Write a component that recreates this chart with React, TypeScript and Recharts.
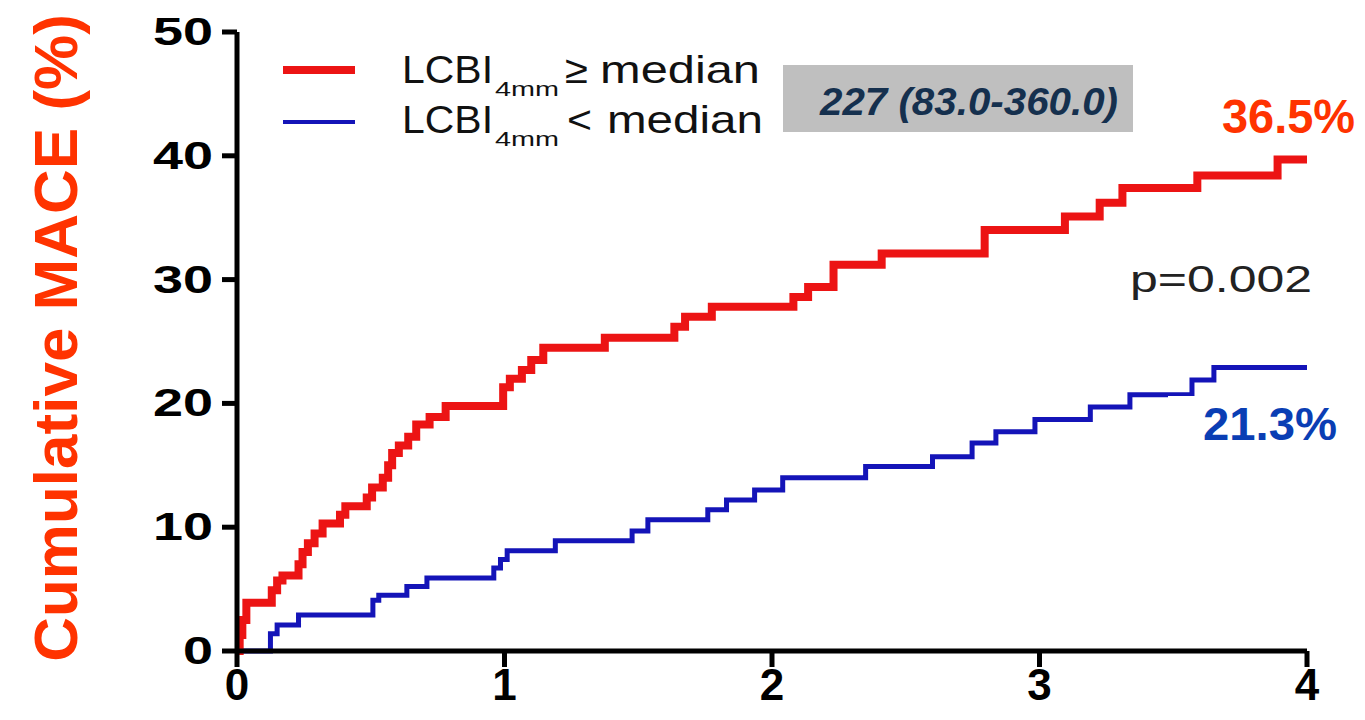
import React from "react";
import { LineChart, Line, XAxis, YAxis } from "recharts";

// Red: LCBI4mm >= median
const redTimes = [0, 0.01, 0.02, 0.035, 0.13, 0.15, 0.17, 0.23, 0.245, 0.265, 0.29, 0.32, 0.385, 0.405, 0.485, 0.505, 0.545, 0.565, 0.58, 0.605, 0.64, 0.67, 0.72, 0.78, 0.995, 1.02, 1.065, 1.1, 1.145, 1.375, 1.635, 1.675, 1.775, 2.08, 2.135, 2.23, 2.41, 2.795, 3.095, 3.225, 3.31, 3.59, 3.89, 4.0];
const redValues = [0, 1.3, 2.5, 3.9, 4.9, 5.7, 6.1, 7.0, 8.0, 8.7, 9.5, 10.3, 11.0, 11.7, 12.4, 13.2, 14.0, 15.0, 16.0, 16.6, 17.3, 18.3, 18.9, 19.8, 21.3, 22.0, 22.7, 23.5, 24.5, 25.3, 26.2, 27.0, 27.8, 28.6, 29.4, 31.2, 32.1, 34.0, 35.1, 36.2, 37.4, 38.4, 39.7, 39.7];

// Blue: LCBI4mm < median
const blueTimes = [0, 0.125, 0.15, 0.23, 0.508, 0.53, 0.635, 0.71, 0.96, 0.985, 1.01, 1.19, 1.477, 1.536, 1.76, 1.83, 1.935, 2.04, 2.35, 2.6, 2.748, 2.837, 2.983, 3.19, 3.338, 3.57, 3.652, 4.0];
const blueValues = [0, 1.4, 2.1, 2.9, 4.1, 4.5, 5.2, 5.9, 6.7, 7.4, 8.1, 8.9, 9.7, 10.6, 11.4, 12.2, 13.0, 14.0, 14.9, 15.7, 16.8, 17.7, 18.7, 19.7, 20.7, 21.9, 22.9, 22.9];

const xTicks = [0, 1, 2, 3, 4];
const yTicks = [0, 10, 20, 30, 40, 50];

const redData = redTimes.map((t, i) => ({ t, y: redValues[i] }));
const blueData = blueTimes.map((t, i) => ({ t, y: blueValues[i] }));

const FONT = "'Liberation Sans', Arial, sans-serif";

const YTick = (props: any) => {
  const { x, y, payload } = props;
  const s = String(payload.value);
  return (
    <text x={x} y={y} dy={13} textAnchor="end" fontFamily={FONT} fontWeight="bold" fontSize={38} fill="#000"
      textLength={s.length * 30} lengthAdjust="spacingAndGlyphs">
      {s}
    </text>
  );
};

const XTick = (props: any) => {
  const { x, y, payload } = props;
  return (
    <text x={x} y={y} dy={33} textAnchor="middle" fontFamily={FONT} fontWeight="bold" fontSize={44} fill="#000">
      {String(payload.value)}
    </text>
  );
};

const LegendRow = ({ y, sym, symX, symLen, medX, medLen }: any) => (
  <g fontFamily={FONT} fill="#111">
    <text x={402} y={y} fontSize={39} textLength={91} lengthAdjust="spacingAndGlyphs">LCBI</text>
    <text x={495} y={y + 13} fontSize={21} textLength={64} lengthAdjust="spacingAndGlyphs">4mm</text>
    <text x={symX} y={y} fontSize={39} textLength={symLen} lengthAdjust="spacingAndGlyphs">{sym}</text>
    <text x={medX} y={y} fontSize={39} textLength={medLen} lengthAdjust="spacingAndGlyphs">median</text>
  </g>
);

export default function App() {
  return (
    <div style={{ position: "absolute", left: 0, top: 0, width: 1365, height: 720, background: "#fff" }}>
      <LineChart width={1365} height={720} margin={{ top: 32, right: 58, left: 0, bottom: 0 }}>
        <XAxis
          type="number"
          dataKey="t"
          domain={[0, 4]}
          ticks={xTicks}
          allowDataOverflow
          height={69}
          axisLine={{ stroke: "#000", strokeWidth: 5 }}
          tickLine={{ stroke: "#000", strokeWidth: 5 }}
          tickSize={16}
          tickMargin={0}
          tick={<XTick />}
        />
        <YAxis
          type="number"
          domain={[0, 50]}
          ticks={yTicks}
          width={237}
          axisLine={{ stroke: "#000", strokeWidth: 5 }}
          tickLine={{ stroke: "#000", strokeWidth: 5 }}
          tickSize={15}
          tickMargin={9}
          tick={<YTick />}
        />
        <Line data={blueData} dataKey="y" type="stepAfter" stroke="#1414B8" strokeWidth={5} dot={false} isAnimationActive={false} />
        <Line data={redData} dataKey="y" type="stepAfter" stroke="#EC1414" strokeWidth={8} dot={false} isAnimationActive={false} />
      </LineChart>
      <svg width={1365} height={720} style={{ position: "absolute", left: 0, top: 0, pointerEvents: "none" }}>
        <text transform="translate(77,338) rotate(-90)" textAnchor="middle" fontFamily={FONT} fontWeight="bold" fontSize={62} fill="#FF3300">
          Cumulative MACE (%)
        </text>
        {/* legend */}
        <line x1={283} y1={70} x2={355} y2={70} stroke="#EC1414" strokeWidth={8} />
        <line x1={283} y1={122} x2={355} y2={122} stroke="#1414B8" strokeWidth={4} />
        <LegendRow y={83} sym="≥" symX={565} symLen={23} medX={600} medLen={160} />
        <LegendRow y={133} sym="<" symX={567} symLen={25} medX={607} medLen={156} />
        {/* median box */}
        <rect x={783} y={65} width={350} height={67} fill="#BFBFBF" />
        <text x={820} y={115} fontFamily={FONT} fontStyle="italic" fontWeight="bold" fontSize={38} fill="#15304E"
          textLength={298} lengthAdjust="spacingAndGlyphs">
          227 (83.0-360.0)
        </text>
        {/* annotations */}
        <text x={1222} y={133} fontFamily={FONT} fontWeight="bold" fontSize={48} fill="#FF3300"
          textLength={133} lengthAdjust="spacingAndGlyphs">
          36.5%
        </text>
        <text x={1130} y={292} fontFamily={FONT} fontSize={37} fill="#222"
          textLength={182} lengthAdjust="spacingAndGlyphs">
          p=0.002
        </text>
        <rect x={1168} y={396} width={180} height={52} fill="#fff" />
        <text x={1203} y={440} fontFamily={FONT} fontWeight="bold" fontSize={46} fill="#0A3EB4"
          textLength={134} lengthAdjust="spacingAndGlyphs">
          21.3%
        </text>
      </svg>
    </div>
  );
}
